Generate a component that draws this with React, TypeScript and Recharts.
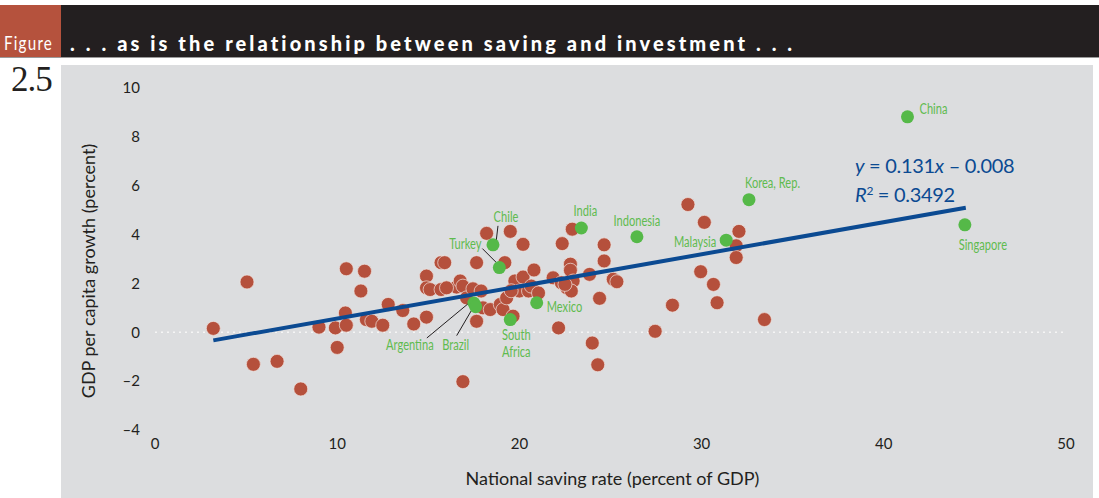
import React from "react";
import { ScatterChart, Scatter, XAxis, YAxis, ReferenceLine } from "recharts";

// other economies (red dots)
const otherSaving = [
  3.2, 5.05, 5.4, 6.7, 8.0, 9.0, 9.9, 10.0, 10.5, 10.45, 10.5, 11.5, 11.3, 11.6, 11.9, 12.5,
  12.8, 13.6, 14.2, 14.9, 14.9, 14.9, 15.1, 15.7, 15.7, 15.9, 16.55, 16.75, 16.9, 17.1, 17.45,
  17.9, 17.65, 17.65, 18.2, 19.5, 20.2, 19.2, 18.0, 18.4, 18.95, 19.1, 19.65, 19.75, 20.2,
  20.8, 20.0, 20.5, 20.65, 21.05, 21.85, 22.35, 22.9, 22.8, 22.8, 22.3, 22.6, 22.95, 22.85,
  23.85, 24.65, 24.65, 25.15, 25.35, 24.4, 22.15, 24.0, 24.3, 16.9, 29.25, 30.15, 32.05, 31.9,
  31.9, 29.95, 30.65, 30.85, 28.4, 33.45, 27.45, 19.3, 19.55, 22.5, 16.0,
];
const otherGrowth = [
  0.16, 2.06, -1.31, -1.19, -2.32, 0.21, 0.18, -0.62, 2.6, 0.79, 0.29, 2.5, 1.69, 0.52, 0.45, 0.29,
  1.14, 0.89, 0.34, 0.62, 2.3, 1.82, 1.75, 1.75, 2.85, 2.85, 1.85, 2.1, 1.89, 1.41, 1.78,
  1.69, 2.85, 0.45, 4.05, 4.13, 3.6, 2.85, 1.0, 0.93, 1.14, 0.93, 0.66, 2.1, 2.26,
  2.55, 1.69, 1.69, 1.89, 1.61, 2.23, 3.63, 4.22, 2.79, 2.54, 2.03, 1.82, 2.1, 1.69,
  2.37, 3.58, 2.92, 2.17, 2.07, 1.39, 0.18, -0.44, -1.33, -2.02, 5.23, 4.5, 4.13, 3.54,
  3.06, 2.48, 1.96, 1.21, 1.11, 0.52, 0.04, 1.41, 1.7, 1.96, 1.82,
];

// highlighted economies (green dots)
const countryNames = [
  "China", "Korea, Rep.", "Singapore", "Indonesia", "India", "Malaysia",
  "Chile", "Turkey", "Mexico", "South Africa", "Argentina", "Brazil",
];
const countrySaving = [41.3, 32.6, 44.45, 26.45, 23.4, 31.35, 18.55, 18.9, 20.95, 19.5, 17.5, 17.6];
const countryGrowth = [8.82, 5.43, 4.4, 3.91, 4.27, 3.77, 3.58, 2.65, 1.21, 0.52, 1.2, 1.05];

// fitted line end points
const fitSaving = [3.2, 44.5];
const fitGrowth = [-0.33, 5.1];

const xTicks = [0, 10, 20, 30, 40, 50];
const yTicks = [-4, -2, 0, 2, 4, 6, 8, 10];

const otherPoints = otherSaving.map((x, i) => ({ x, y: otherGrowth[i] }));
const countryPoints = countryNames.map((name, i) => ({ name, x: countrySaving[i], y: countryGrowth[i] }));
const fitPoints = fitSaving.map((x, i) => ({ x, y: fitGrowth[i] }));

const RED = "#b5503c";
const GREEN = "#55b948";
const LABEL_GREEN = "#5fbb4f";
const BLUE = "#0b4a92";
const INK = "#231f20";
const SANS = "Lato, 'Open Sans', sans-serif";

type LabelPos = {
  dx: number;
  dy: number;
  anchor: "start" | "middle" | "end";
  lines?: string[];
  leader?: [number, number, number, number];
};

const labelPos: Record<string, LabelPos> = {
  China: { dx: 12, dy: -9, anchor: "start" },
  "Korea, Rep.": { dx: -4, dy: -17, anchor: "start" },
  Singapore: { dx: 18, dy: 20, anchor: "middle" },
  Indonesia: { dx: 0, dy: -16, anchor: "middle" },
  India: { dx: 4, dy: -18, anchor: "middle" },
  Malaysia: { dx: -10, dy: 1, anchor: "end" },
  Chile: { dx: 13, dy: -29, anchor: "middle", leader: [5, -19, 3, -2] },
  Turkey: { dx: -34, dy: -24, anchor: "middle", leader: [-17, -19, -2, -4] },
  Mexico: { dx: 10, dy: 4, anchor: "start" },
  "South Africa": { dx: 6, dy: 15, anchor: "middle", lines: ["South", "Africa"] },
  Argentina: { dx: -64, dy: 41, anchor: "middle", leader: [-47, 35, 0, -4] },
  Brazil: { dx: -20, dy: 38, anchor: "middle", leader: [-19, 29, -2, 0] },
};

// condensed look: horizontally squeezed text
function NarrowText({ x, y, anchor, children }: any) {
  return (
    <text
      transform={`translate(${x} ${y}) scale(0.74 1)`}
      textAnchor={anchor}
      dominantBaseline="central"
      fill={LABEL_GREEN}
      fontFamily={SANS}
      fontSize={15}
    >
      {children}
    </text>
  );
}

function RedDot(props: any) {
  const { cx, cy } = props;
  if (cx == null || cy == null) return <g />;
  return <circle cx={cx} cy={cy} r={7} fill={RED} stroke="#efe4e0" strokeWidth={0.7} />;
}

function CountryDot(props: any) {
  const { cx, cy, payload } = props;
  if (cx == null || cy == null) return <g />;
  const s = labelPos[payload.name];
  const lines = s.lines ?? [payload.name];
  return (
    <g>
      {s.leader && (
        <line
          x1={cx + s.leader[0]}
          y1={cy + s.leader[1]}
          x2={cx + s.leader[2]}
          y2={cy + s.leader[3]}
          stroke={INK}
          strokeWidth={1}
        />
      )}
      <circle cx={cx} cy={cy} r={6.5} fill={GREEN} />
      {lines.map((t, i) => (
        <NarrowText key={t} x={cx + s.dx} y={cy + s.dy + i * 17} anchor={s.anchor}>
          {t}
        </NarrowText>
      ))}
    </g>
  );
}

const dash = (v: number) => String(v).replace("-", "\u2013");

export default function App() {
  return (
    <div
      style={{
        position: "absolute",
        left: 0,
        top: 0,
        width: 1099,
        height: 498,
        background: "#ffffff",
        overflow: "hidden",
        fontFamily: SANS,
      }}
    >
      {/* header band */}
      <div style={{ position: "absolute", left: 0, top: 5, width: 61, height: 52, background: "#b5523d" }} />
      <div style={{ position: "absolute", left: 61, top: 5, width: 1038, height: 52, background: INK }} />
      <div style={{ position: "absolute", left: 0, top: 57, width: 1099, height: 1, background: "#9a9a9a" }} />
      <div
        style={{
          position: "absolute",
          left: 4,
          top: 32,
          color: "#fff",
          fontSize: 19,
          lineHeight: "22px",
          letterSpacing: 1.5,
          transform: "scaleX(0.8)",
          transformOrigin: "0 0",
        }}
      >
        Figure
      </div>
      <div
        style={{
          position: "absolute",
          left: 70,
          top: 31,
          color: "#fff",
          fontWeight: 900,
          fontSize: 20,
          lineHeight: "24px",
          letterSpacing: 3.1,
          whiteSpace: "nowrap",
        }}
      >
        . . . as is the relationship between saving and investment . . .
      </div>
      <div
        style={{
          position: "absolute",
          left: 11,
          top: 61,
          color: INK,
          fontFamily: "'Liberation Serif', serif",
          fontSize: 35,
          lineHeight: "38px",
          letterSpacing: -1,
        }}
      >
        2.5
      </div>

      {/* grey panel */}
      <div style={{ position: "absolute", left: 61, top: 65, width: 1032, height: 433, background: "#dcdddf" }} />

      <div style={{ position: "absolute", left: 0, top: 0 }}>
        <ScatterChart width={1099} height={498} margin={{ top: 88, right: 33, bottom: 28, left: 60 }}>
          <XAxis
            type="number"
            dataKey="x"
            domain={[0, 50]}
            ticks={xTicks}
            axisLine={false}
            tickLine={false}
            height={40}
            tick={{ fill: INK, fontSize: 15, fontFamily: SANS }}
            label={{
              content: (p: any) => (
                <text
                  x={p.viewBox.x + p.viewBox.width / 2 + 2}
                  y={478}
                  textAnchor="middle"
                  dominantBaseline="central"
                  fill={INK}
                  fontSize={18}
                  fontFamily={SANS}
                >
                  National saving rate (percent of GDP)
                </text>
              ),
            }}
          />
          <YAxis
            type="number"
            dataKey="y"
            domain={[-4, 10]}
            ticks={yTicks}
            axisLine={false}
            tickLine={false}
            tickSize={0}
            tickMargin={15}
            width={95}
            tickFormatter={dash}
            tick={{ fill: INK, fontSize: 15, fontFamily: SANS }}
            label={{
              content: () => {
                const cx = 88;
                const cy = 271;
                return (
                  <text
                    x={cx}
                    y={cy}
                    transform={`rotate(-90 ${cx} ${cy})`}
                    textAnchor="middle"
                    dominantBaseline="central"
                    fill={INK}
                    fontSize={18}
                    fontFamily={SANS}
                  >
                    GDP per capita growth (percent)
                  </text>
                );
              },
            }}
          />
          <ReferenceLine y={0} stroke="#f5f5f5" strokeWidth={1.5} strokeDasharray="2 4" />
          <Scatter data={otherPoints} shape={RedDot} isAnimationActive={false} />
          <Scatter
            data={fitPoints}
            line={{ stroke: BLUE, strokeWidth: 4 }}
            lineType="joint"
            shape={() => <g />}
            isAnimationActive={false}
          />
          <Scatter data={countryPoints} shape={CountryDot} isAnimationActive={false} />
        </ScatterChart>
      </div>

      {/* regression equation */}
      <div
        style={{
          position: "absolute",
          left: 855,
          top: 152,
          color: BLUE,
          fontSize: 20,
          lineHeight: "26px",
          whiteSpace: "nowrap",
          letterSpacing: -0.3,
        }}
      >
        <div>
          <i>y</i> = 0.131<i>x</i> – 0.008
        </div>
        <div>
          <i>R</i>
          <sup style={{ fontSize: 12, verticalAlign: "7px" }}>2</sup> = 0.3492
        </div>
      </div>
    </div>
  );
}
